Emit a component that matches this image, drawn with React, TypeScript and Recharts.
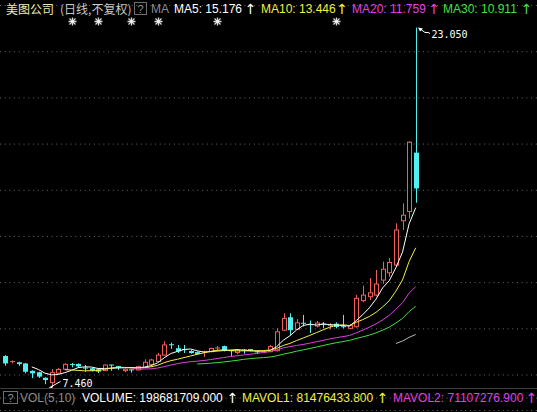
import React from 'react';
import { ComposedChart, Bar, Line, XAxis, YAxis, CartesianGrid } from 'recharts';

// ---- data (daily candles, HKD) ----
const opens = [
  8.82, 8.55, 8.55, 8.50, 8.18, 8.12, 7.88, 7.67, 8.08, 8.25,
  8.45, 8.48, 8.30, 8.29, 8.25, 8.19, 8.43, 8.37, 8.19, 8.22,
  8.22, 8.33, 8.46, 8.58, 8.86, 9.31, 9.16, 9.10, 9.04, 8.99,
  8.96, 9.01, 9.14, 9.25, 9.05, 8.97, 9.08, 9.10, 9.00, 8.98,
  9.01, 9.05, 9.94, 10.50, 9.98, 10.24, 10.18, 10.12, 10.20, 10.10,
  10.22, 10.09, 10.02, 10.09, 11.22, 11.39, 11.46, 12.11, 12.43, 12.76,
  14.68, 15.08, 17.63,
];
const highs = [
  8.86, 8.63, 8.57, 8.52, 8.20, 8.14, 7.90, 8.25, 8.30, 8.50,
  8.52, 8.50, 8.43, 8.31, 8.28, 8.45, 8.44, 8.38, 8.28, 8.25,
  8.40, 8.68, 8.70, 8.96, 9.46, 9.40, 9.30, 9.30, 9.08, 9.02,
  9.05, 9.18, 9.25, 9.27, 9.08, 9.12, 9.12, 9.11, 9.03, 9.05,
  9.30, 10.02, 10.67, 10.67, 10.42, 10.60, 10.36, 10.34, 10.29, 10.24,
  10.28, 10.60, 10.20, 11.47, 11.87, 12.20, 12.55, 12.91, 13.06, 14.57,
  15.43, 18.12, 23.05,
];
const lows = [
  8.40, 8.50, 8.40, 8.07, 7.86, 7.87, 7.60, 7.46, 8.05, 8.22,
  8.33, 8.33, 8.14, 8.15, 8.08, 8.17, 8.18, 8.22, 8.12, 8.10,
  8.20, 8.30, 8.43, 8.55, 8.84, 9.13, 8.95, 8.95, 8.92, 8.88,
  8.78, 8.98, 9.05, 9.02, 8.82, 8.90, 8.92, 9.03, 8.90, 8.95,
  8.98, 9.02, 9.90, 9.73, 9.95, 10.10, 9.82, 10.06, 10.02, 9.98,
  10.02, 10.02, 9.98, 10.05, 11.15, 11.25, 11.40, 11.95, 12.25, 12.70,
  14.28, 14.78, 15.46,
];
const closes = [
  8.50, 8.58, 8.47, 8.14, 8.07, 7.93, 7.78, 8.10, 8.24, 8.46,
  8.42, 8.37, 8.28, 8.19, 8.15, 8.43, 8.40, 8.34, 8.25, 8.20,
  8.36, 8.55, 8.65, 8.86, 9.30, 9.28, 9.02, 9.07, 8.95, 8.91,
  9.00, 9.15, 9.17, 9.05, 9.03, 9.08, 9.05, 9.05, 8.98, 9.00,
  9.23, 9.87, 10.45, 9.94, 10.26, 10.20, 10.16, 10.25, 10.17, 10.14,
  10.08, 10.07, 10.14, 11.32, 11.46, 11.56, 11.94, 12.58, 12.87, 14.28,
  14.92, 18.08, 16.08,
];
const eventDays = [10, 14, 19, 23, 32, 50];
const maPeriods = [5, 10, 20, 30, 60];
const gridPrices = [8, 10, 12, 14, 16, 18, 20, 22];

const stockName = '美图公司';
const periodLabel = '(日线,不复权)';
const maTitleLabels = ['MA5', 'MA10', 'MA20', 'MA30'];
const maTitleValues = ['15.176', '13.446', '11.759', '10.911'];
const volLabels = ['VOLUME', 'MAVOL1', 'MAVOL2'];
const volValues = ['198681709.000', '81476433.800', '71107276.900'];

// ---- styles ----
const RED = '#f0605a';
const CYAN = '#50f0f0';
const MA_COLORS = ['#ffffff', '#f0f040', '#e040e0', '#40e040', '#b8b8b8'];
const LATIN = "'Liberation Sans', Arial, sans-serif";
const ARROW = "'DejaVu Sans', sans-serif";
const CJK = "'Noto Sans CJK SC', 'Noto Sans', sans-serif";
const MONO = "'DejaVu Sans Mono', monospace";

function movingAverage(values: number[], n: number): (number | null)[] {
  return values.map((_, i) => {
    if (i < n - 1) return null;
    let s = 0;
    for (let k = i - n + 1; k <= i; k++) s += values[k];
    return s / n;
  });
}

const maSeries = maPeriods.map((p) => movingAverage(closes, p));
const data = closes.map((c, i) => {
  const row: any = { i, o: opens[i], h: highs[i], l: lows[i], c };
  maPeriods.forEach((p, k) => {
    row['ma' + p] = maSeries[k][i];
  });
  return row;
});
const maxHigh = Math.max(...highs);
const minLow = Math.min(...lows);

function Asterisk({ x, y }: { x: number; y: number }) {
  const r = 4;
  const d = 3;
  return (
    <g stroke="#dcdcdc" strokeWidth={1.3}>
      <line x1={x - r} y1={y} x2={x + r} y2={y} />
      <line x1={x} y1={y - r} x2={x} y2={y + r} />
      <line x1={x - d} y1={y - d} x2={x + d} y2={y + d} />
      <line x1={x - d} y1={y + d} x2={x + d} y2={y - d} />
      <circle cx={x} cy={y} r={1.5} fill="#f0f0f0" stroke="none" />
    </g>
  );
}

const Candle = (props: any) => {
  const { x, y, width, height, payload } = props;
  if (payload == null || x == null) return null;
  const top = Math.min(y, y + height);
  const bot = Math.max(y, y + height);
  const { o, h, l, c, i } = payload;
  const span = h - l;
  const py = (p: number) => (span > 0 ? top + ((h - p) / span) * (bot - top) : top);
  const cx = x + width / 2;
  const px = Math.round(cx) + 0.5;
  const up = c >= o;
  const yo = py(o);
  const yc = py(c);
  const bt = Math.min(yo, yc);
  const bb = Math.max(yo, yc);
  const parts: React.ReactNode[] = [];
  if (up) {
    const bh = Math.max(bb - bt, 0);
    if (bh < 1.2) {
      parts.push(<line key="w" x1={px} y1={top} x2={px} y2={bot} stroke={RED} />);
      parts.push(<line key="b" x1={px - 2.5} y1={bt} x2={px + 2.5} y2={bt} stroke={RED} />);
    } else {
      parts.push(<line key="w1" x1={px} y1={top} x2={px} y2={bt} stroke={RED} />);
      parts.push(<line key="w2" x1={px} y1={bb} x2={px} y2={bot} stroke={RED} />);
      parts.push(
        <rect key="b" x={px - 2} y={bt} width={4} height={bh} fill="#000" stroke={RED} strokeWidth={1} />
      );
    }
  } else {
    parts.push(<line key="w" x1={px} y1={top} x2={px} y2={bot} stroke={CYAN} />);
    const bh = bb - bt;
    if (bh < 1.2) {
      parts.push(<line key="b" x1={px - 2.5} y1={bt} x2={px + 2.5} y2={bt} stroke={CYAN} />);
    } else {
      parts.push(<rect key="b" x={px - 2.5} y={bt} width={5} height={bh} fill={CYAN} />);
    }
  }
  if (eventDays.includes(i)) {
    parts.push(<Asterisk key="s" x={px} y={21.5} />);
  }
  if (h === maxHigh) {
    const tx = px + 1.5;
    const ty = top;
    parts.push(
      <g key="hi">
        <polygon points={`${tx},${ty} ${tx + 5},${ty + 1} ${tx + 2},${ty + 4}`} fill="#fff" />
        <polyline
          points={`${tx + 3},${ty + 2} ${tx + 7},${ty + 5} ${tx + 10},${ty + 5} ${tx + 12},${ty + 6}`}
          fill="none"
          stroke="#fff"
          strokeWidth={1}
        />
        <text x={tx + 13.5} y={ty + 10.5} fill="#fff" fontFamily={MONO} fontSize={10}>
          {h.toFixed(3)}
        </text>
      </g>
    );
  }
  if (l === minLow) {
    const tx = px - 4;
    const ty = bot;
    parts.push(
      <g key="lo">
        <polygon points={`${tx},${ty} ${tx + 5},${ty - 2.5} ${tx + 3.5},${ty + 0.5}`} fill="#fff" />
        <line x1={tx + 4} y1={ty - 1.5} x2={tx + 12} y2={ty - 6} stroke="#fff" strokeWidth={1} />
        <text x={tx + 14} y={ty - 0.5} fill="#fff" fontFamily={MONO} fontSize={10}>
          {l.toFixed(3)}
        </text>
      </g>
    );
  }
  return <g>{parts}</g>;
};

const W = 537;
const H = 412;

export default function App() {
  const titleX = [174, 261, 352, 443];
  const titleArrowX = [250.5, 342, 434, 526.5];
  const volX = [82, 242, 393];
  const volArrowX = [232.5, 382.5, 531.5];
  const volColors = ['#ffffff', '#f0f040', '#e040e0'];
  return (
    <div style={{ position: 'absolute', left: 0, top: 0, width: W, height: H, background: '#000', overflow: 'hidden' }}>
      <ComposedChart
        width={W}
        height={H}
        data={data}
        margin={{ top: 5.56, right: 0, bottom: 13.93, left: 0 }}
        style={{ position: 'absolute', left: 0, top: 0 }}
      >
        <XAxis hide type="number" dataKey="i" domain={[-0.8, 80.32]} allowDataOverflow />
        <YAxis hide type="number" domain={[7, 24]} ticks={gridPrices} allowDataOverflow />
        <CartesianGrid vertical={false} stroke="#6a6a6a" strokeDasharray="1 3.7" />
        {maPeriods.map((p, k) => (
          <Line
            key={p}
            type="linear"
            dataKey={'ma' + p}
            stroke={MA_COLORS[k]}
            strokeWidth={1}
            dot={false}
            activeDot={false}
            connectNulls={false}
            isAnimationActive={false}
          />
        ))}
        <Bar
          dataKey={(d: any) => [d.l, d.h]}
          barSize={5}
          shape={Candle}
          isAnimationActive={false}
        />
      </ComposedChart>
      <svg
        width={W}
        height={H}
        style={{ position: 'absolute', left: 0, top: 0, pointerEvents: 'none' }}
      >
        {/* title row */}
        <text x={6} y={14} fill="#ecebb4" fontFamily={CJK} fontSize={12}>{stockName}</text>
        <text x={60} y={14} fill="#c8c8c8" fontFamily={CJK} fontSize={12}>{periodLabel}</text>
        <rect x={134.5} y={2.5} width={12} height={12} fill="none" stroke="#707070" />
        <text x={140.5} y={13} fill="#909090" fontFamily={LATIN} fontSize={11} textAnchor="middle">?</text>
        <text x={151} y={13} fill="#8c8c8c" fontFamily={LATIN} fontSize={12}>MA</text>
        {maTitleLabels.map((lab, k) => (
          <g key={lab}>
            <text x={titleX[k]} y={13} fill={MA_COLORS[k]} fontFamily={LATIN} fontSize={12}>
              {`${lab}: ${maTitleValues[k]}`}
            </text>
            <text x={titleArrowX[k]} y={14} fill={MA_COLORS[k]} fontFamily={ARROW} fontSize={14} textAnchor="middle">↑</text>
          </g>
        ))}
        {/* panel divider + footer */}
        <line x1={0} y1={388.5} x2={W} y2={388.5} stroke="#3c3c3c" />
        <rect x={3.5} y={391.5} width={14} height={12} fill="none" stroke="#707070" />
        <text x={10.5} y={402} fill="#909090" fontFamily={LATIN} fontSize={11} textAnchor="middle">?</text>
        <text x={20} y={402} fill="#8c8c8c" fontFamily={LATIN} fontSize={12}>VOL(5,10)</text>
        {volLabels.map((lab, k) => (
          <g key={lab}>
            <text x={volX[k]} y={402} fill={volColors[k]} fontFamily={LATIN} fontSize={12}>
              {`${lab}: ${volValues[k]}`}
            </text>
            <text x={volArrowX[k]} y={403} fill={volColors[k]} fontFamily={ARROW} fontSize={14} textAnchor="middle">↑</text>
          </g>
        ))}
        <line x1={0} y1={410.5} x2={W} y2={410.5} stroke="#6a6a6a" strokeDasharray="1 3.7" />
      </svg>
    </div>
  );
}
